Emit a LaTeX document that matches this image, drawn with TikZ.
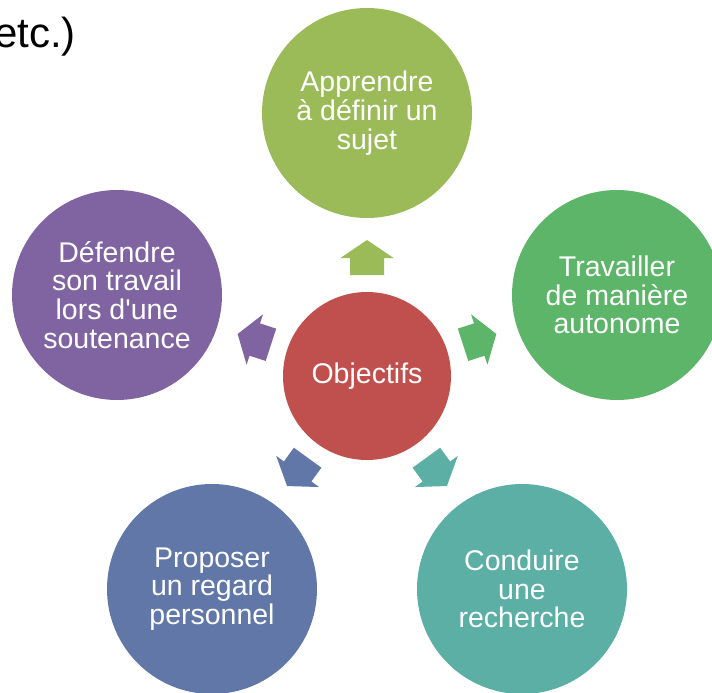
\documentclass[tikz,border=0pt]{standalone}
\usepackage{fontspec}
\setmainfont{Liberation Sans}
\definecolor{cred}{RGB}{192,80,77}
\definecolor{colive}{RGB}{155,187,89}
\definecolor{cgreen}{RGB}{92,181,104}
\definecolor{cteal}{RGB}{91,175,165}
\definecolor{cblue}{RGB}{96,119,167}
\definecolor{cpurple}{RGB}{128,100,162}
\begin{document}
\begin{tikzpicture}[x=1pt,y=-1pt,
  circ/.style={circle, draw=none, inner sep=0pt, align=center, text=white,
    font=\fontsize{28.5}{28.8}\selectfont},
  outer/.style={circ, minimum size=210pt},
  inner/.style={circ, minimum size=168pt}]
\useasboundingbox (0,0) rectangle (712,693);
\clip (0,0) rectangle (712,693);
\node[anchor=base east, font=\fontsize{42}{48}\selectfont, inner sep=0pt] (etc) at (76,48) {etc.)};
\node[inner, fill=cred] (c) at (367,376) {Objectifs};
\node[outer, fill=colive] (n1) at (367,113) {Apprendre\\à définir un\\sujet};
\node[outer, fill=cgreen] (n2) at (617,295) {Travailler\\de manière\\autonome};
\node[outer, fill=cteal] (n3) at (522,589) {Conduire\\une\\recherche};
\node[outer, fill=cblue] (n4) at (212,589) {Proposer\\un regard\\personnel};
\node[outer, fill=cpurple] (n5) at (117,295) {Défendre\\son travail\\lors d\textquotesingle une\\soutenance};
\foreach \ang/\col in {90/colive, 18/cgreen, -54/cteal, -126/cblue, 162/cpurple}{
  \begin{scope}[shift={(c.center)}, rotate=\ang]
    \fill[\col] (101,-17) -- (118,-17) -- (118,-26.5) -- (136,0) -- (118,26.5) -- (118,17) -- (101,17) -- cycle;
  \end{scope}
}
\end{tikzpicture}
\end{document}
